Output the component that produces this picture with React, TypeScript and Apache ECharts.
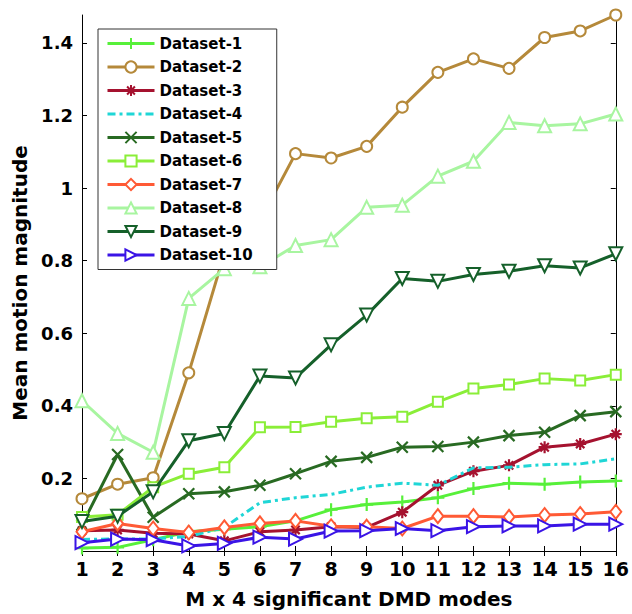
import React, { useEffect, useRef } from "react";
import * as echarts from "echarts";

const modes = [1, 2, 3, 4, 5, 6, 7, 8, 9, 10, 11, 12, 13, 14, 15, 16];
const seriesNames = [
  "Dataset-1", "Dataset-2", "Dataset-3", "Dataset-4", "Dataset-5",
  "Dataset-6", "Dataset-7", "Dataset-8", "Dataset-9", "Dataset-10",
];
const d1 = [0.008, 0.010, 0.031, 0.053, 0.060, 0.067, 0.083, 0.114, 0.128, 0.135, 0.147, 0.172, 0.187, 0.184, 0.190, 0.193];
const d2 = [0.144, 0.184, 0.202, 0.491, 0.82, 0.91, 1.095, 1.083, 1.115, 1.223, 1.319, 1.356, 1.330, 1.415, 1.433, 1.477];
const d3 = [0.056, 0.058, 0.049, 0.047, 0.028, 0.053, 0.058, 0.067, 0.065, 0.107, 0.181, 0.220, 0.236, 0.286, 0.295, 0.322];
const d4 = [0.032, 0.033, 0.033, 0.040, 0.065, 0.133, 0.147, 0.156, 0.176, 0.187, 0.181, 0.229, 0.231, 0.238, 0.240, 0.254];
const d5 = [0.072, 0.266, 0.093, 0.158, 0.163, 0.181, 0.213, 0.247, 0.258, 0.286, 0.288, 0.300, 0.318, 0.327, 0.373, 0.384];
const d6 = [0.094, 0.100, 0.176, 0.213, 0.231, 0.341, 0.342, 0.356, 0.366, 0.370, 0.411, 0.448, 0.459, 0.475, 0.470, 0.486];
const d7 = [0.053, 0.076, 0.062, 0.051, 0.065, 0.076, 0.083, 0.068, 0.067, 0.062, 0.096, 0.096, 0.094, 0.099, 0.102, 0.108];
const d8 = [0.414, 0.324, 0.272, 0.696, 0.778, 0.783, 0.842, 0.858, 0.947, 0.953, 1.033, 1.074, 1.181, 1.172, 1.177, 1.204];
const d9 = [0.081, 0.096, 0.163, 0.304, 0.324, 0.482, 0.477, 0.568, 0.650, 0.751, 0.743, 0.762, 0.771, 0.786, 0.780, 0.819];
const d10 = [0.023, 0.033, 0.031, 0.014, 0.021, 0.038, 0.033, 0.055, 0.056, 0.062, 0.056, 0.067, 0.069, 0.069, 0.074, 0.074];

const xTitle = "M x 4 significant DMD modes";
const yTitle = "Mean motion magnitude";

const FONT = "DejaVu Sans";
const PLUS = "path://M0,5L10,5M5,0L5,10";
const CROSS = "path://M0,0L10,10M0,10L10,0";
const STAR = "path://M0,5L10,5M5,0L5,10M1.5,1.5L8.5,8.5M1.5,8.5L8.5,1.5";

export default function App() {
  const ref = useRef<HTMLDivElement>(null);
  useEffect(() => {
    const chart = echarts.init(ref.current!, null, { renderer: "svg" });
    const specs: any[] = [
      { data: d1, color: "#57f03a", symbol: PLUS, size: 13 },
      { data: d2, color: "#b5893a", symbol: "emptyCircle", size: 11 },
      { data: d3, color: "#a5122f", symbol: STAR, size: 12 },
      { data: d4, color: "#1fd6d6", symbol: "none", size: 0, dash: [8, 4, 3, 4] },
      { data: d5, color: "#286a22", symbol: CROSS, size: 11 },
      { data: d6, color: "#8aee38", symbol: "emptyRect", size: 10 },
      { data: d7, color: "#ff5a35", symbol: "emptyDiamond", size: [11, 14] },
      { data: d8, color: "#a8f5a0", symbol: "emptyTriangle", size: 13 },
      { data: d9, color: "#15602a", symbol: "emptyTriangle", size: 13, rotate: 180 },
      { data: d10, color: "#3a14e6", symbol: "emptyTriangle", size: 13, rotate: -90 },
    ];
    const series = specs.map((s, i) => ({
      type: "line",
      name: seriesNames[i],
      data: modes.map((m, j) => [m, s.data[j]]),
      symbol: s.symbol === "none" ? "circle" : s.symbol,
      showSymbol: s.symbol !== "none",
      symbolSize: s.size,
      symbolRotate: s.rotate || 0,
      xAxisIndex: 0,
      yAxisIndex: 0,
      lineStyle: { color: s.color, width: 3, type: s.dash || "solid" },
      itemStyle:
        s.symbol === "none"
          ? { color: "rgba(0,0,0,0)", borderWidth: 0 }
          : { color: s.color, borderColor: s.color, borderWidth: 2.2 },
      emphasis: { disabled: true },
      z: 2 + i * 0.01,
    }));
    const labelFmt = (v: number) => {
      const k = v * 5;
      if (v <= 0 || Math.abs(k - Math.round(k)) > 1e-6) return "";
      return String(+v.toFixed(1));
    };
    const axisLine = { show: true, lineStyle: { color: "#000", width: 1 } };
    const tick = { show: true, inside: true, length: 5, lineStyle: { color: "#000", width: 1 } };
    chart.setOption({
      animation: false,
      backgroundColor: "#fff",
      grid: { left: 82, right: 11, top: 15, bottom: 61, containLabel: false },
      xAxis: [
        {
          type: "value", min: 1, max: 16, interval: 1, position: "bottom",
          axisLine, axisTick: tick, splitLine: { show: false },
          axisLabel: { fontFamily: FONT, fontWeight: "bold", fontSize: 19, color: "#000", margin: 8 },
          name: xTitle, nameLocation: "middle", nameGap: 38,
          nameTextStyle: { fontFamily: FONT, fontWeight: "bold", fontSize: 20, color: "#000" },
        },
        {
          type: "value", min: 1, max: 16, interval: 1, position: "top",
          axisLine, axisTick: tick, splitLine: { show: false }, axisLabel: { show: false },
        },
      ],
      yAxis: [
        {
          type: "value", min: 0, max: 1.477, interval: 0.2, position: "left",
          axisLine, axisTick: tick, splitLine: { show: false },
          axisLabel: { fontFamily: FONT, fontWeight: "bold", fontSize: 18, color: "#000", margin: 9, formatter: labelFmt, showMaxLabel: false },
          name: yTitle, nameLocation: "middle", nameGap: 32,
          nameTextStyle: { fontFamily: FONT, fontWeight: "bold", fontSize: 20, color: "#000" },
        },
        {
          type: "value", min: 0, max: 1.477, interval: 0.2, position: "right",
          axisLine, axisTick: tick, splitLine: { show: false }, axisLabel: { show: false },
        },
      ],
      legend: {
        orient: "vertical", left: 98, top: 29,
        data: seriesNames,
        itemWidth: 47, itemHeight: 14, itemGap: 8.5,
        padding: [7, 24, 7, 8],
        borderColor: "#333", borderWidth: 1, backgroundColor: "#fff",
        lineStyle: { width: 3 },
        textStyle: { fontFamily: FONT, fontWeight: "bold", fontSize: 15, color: "#000", lineHeight: 14 },
        selectedMode: false,
        z: 10,
      },
      series,
    });
    return () => chart.dispose();
  }, []);
  return <div ref={ref} style={{ position: "fixed", left: 0, top: 0, width: 632, height: 614 }} />;
}
